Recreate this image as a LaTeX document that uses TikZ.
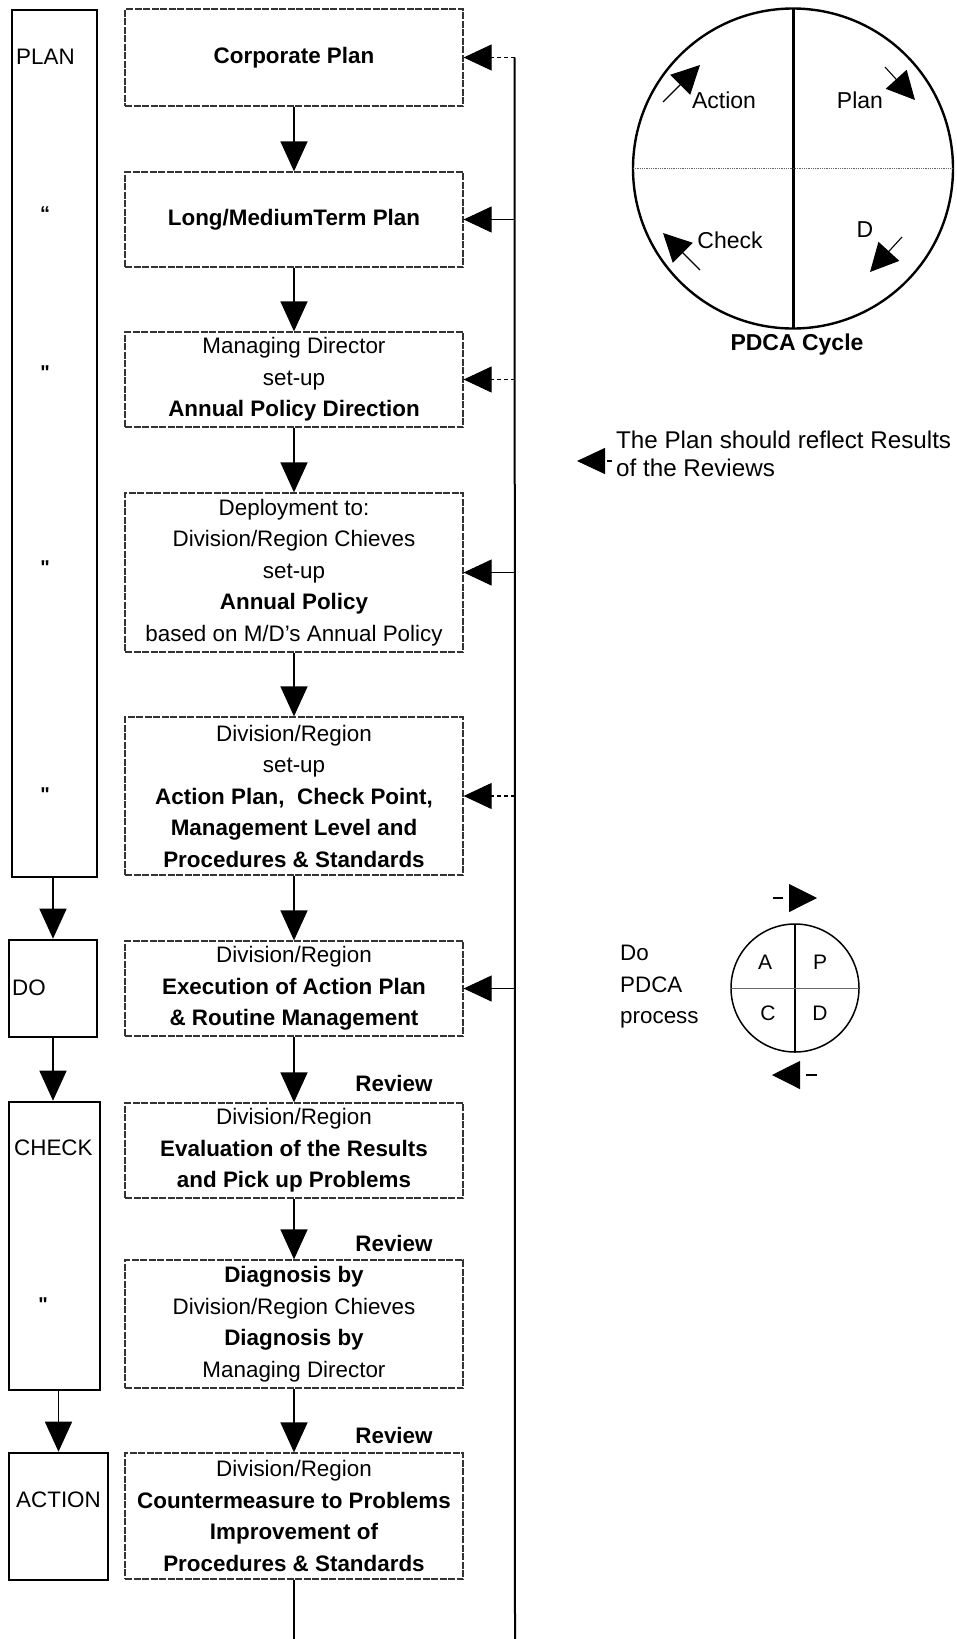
\documentclass[tikz,border=0pt]{standalone}
\usepackage{fontspec}
\setmainfont{Liberation Sans}
\newfontfamily\rawsans[Ligatures=ResetAll]{Liberation Sans}
\usetikzlibrary{arrows.meta}

\begin{document}
\begin{tikzpicture}[x=1pt,y=-1pt,
  flowbox/.style={draw=black!80, line width=1.3pt, dash pattern=on 7pt off 1.5pt,
    minimum width=338pt, inner sep=0pt, align=center,
    font=\fontsize{22.4}{31.5}\selectfont},
  phasebox/.style={draw=black, line width=2.6pt, inner sep=0pt},
  plaintxt/.style={inner sep=0pt, font=\fontsize{22.4}{31.5}\selectfont},
  phasetxt/.style={plaintxt, anchor=west},
  dittotxt/.style={inner sep=0pt, font=\rawsans\bfseries\fontsize{20}{24}\selectfont},
  review/.style={inner sep=0pt, font=\bfseries\fontsize{22.4}{27}\selectfont},
  cycletxt/.style={inner sep=0pt, font=\fontsize{23}{27}\selectfont},
  quadtxt/.style={inner sep=0pt, font=\fontsize{21}{25}\selectfont},
  flowarrow/.style={draw=black, line width=1.6pt, -{Triangle[width=27pt,length=30pt]}},
  fbarrow/.style={draw=black, line width=1.1pt, -{Triangle[width=26pt,length=28pt]}},
  fbdash/.style={dash pattern=on 4pt off 3pt},
  cyclearrow/.style={draw=black, line width=1.1pt, -{Triangle[width=28pt,length=28pt]}},
]
\useasboundingbox (0,0) rectangle (957,1639);

% ---------- phase column ----------
\node[phasebox, minimum width=85pt, minimum height=867pt] (plan) at (54.5,443.5) {};
\node[phasebox, minimum width=88pt, minimum height=97pt] (do) at (53,988.5) {};
\node[phasebox, minimum width=91pt, minimum height=288pt] (check) at (54.5,1246) {};
\node[phasebox, minimum width=99pt, minimum height=127pt] (action) at (58.5,1516.5) {};

\node[phasetxt] (plantxt) at (16,57) {PLAN};
\node[phasetxt] (dotxt) at (12,988) {DO};
\node[phasetxt] (checktxt) at (14,1148) {CHECK};
\node[phasetxt] (actiontxt) at (16,1500) {ACTION};

\node[dittotxt] (d1) at (45,214) {“};
\node[dittotxt] (d2) at (45,373) {"};
\node[dittotxt] (d3) at (45,568) {"};
\node[dittotxt] (d4) at (45,795) {"};
\node[dittotxt] (d5) at (43,1305) {"};

\draw[flowarrow] (plan.south -| do.north) -- (do.north);
\draw[flowarrow] (do.south) -- (do.south |- check.north);
\draw[flowarrow] (check.south -| action.north) -- (action.north);

% ---------- main flow ----------
\node[flowbox, minimum height=97pt] (corp) at (294,57.5) {\textbf{Corporate Plan}};
\node[flowbox, minimum height=95pt] (longm) at (294,219.5) {\textbf{Long/MediumTerm Plan}};
\node[flowbox, minimum height=95pt] (md) at (294,379.5)
  {Managing Director\\set-up\\\textbf{Annual Policy Direction}};
\node[flowbox, minimum height=159pt] (deploy) at (294,572.5)
  {Deployment to:\\Division/Region Chieves\\set-up\\\textbf{Annual Policy}\\based on M/D's Annual Policy};
\node[flowbox, minimum height=158pt] (divset) at (294,796)
  {Division/Region\\set-up\\\textbf{Action Plan,\ \ Check Point,}\\\textbf{Management Level and}\\\textbf{Procedures \& Standards}};
\node[flowbox, minimum height=95pt] (exec) at (294,988.5)
  {Division/Region\\\textbf{Execution of Action Plan}\\\textbf{\& Routine Management}};
\node[flowbox, minimum height=95pt] (eval) at (294,1150.5)
  {Division/Region\\\textbf{Evaluation of the Results}\\\textbf{and Pick up Problems}};
\node[flowbox, minimum height=128pt] (diag) at (294,1324)
  {\textbf{Diagnosis by}\\Division/Region Chieves\\\textbf{Diagnosis by}\\Managing Director};
\node[flowbox, minimum height=126pt] (counter) at (294,1516)
  {Division/Region\\\textbf{Countermeasure to Problems}\\\textbf{Improvement of}\\\textbf{Procedures \& Standards}};

\draw[flowarrow] (corp) -- (longm);
\draw[flowarrow] (longm) -- (md);
\draw[flowarrow] (md) -- (deploy);
\draw[flowarrow] (deploy) -- (divset);
\draw[flowarrow] (divset) -- (exec);
\draw[flowarrow] (exec) -- (eval);
\draw[flowarrow] (eval) -- (diag);
\draw[flowarrow] (diag) -- (counter);

\node[review] (rv1) at (394,1083) {Review};
\node[review] (rv2) at (394,1243) {Review};
\node[review] (rv3) at (394,1435) {Review};

% return line from the bottom back into the plan
\coordinate (ctail) at (294,1639);
\draw[line width=1.6pt] (counter.south) -- (ctail);
\path (corp.east) ++(51,0) coordinate (fbtop);
\coordinate (fbbot) at (515,1639);
\draw[line width=2pt] (fbtop) -- (fbbot);

\draw[fbarrow, fbdash] (fbtop) -- (corp.east);
\draw[fbarrow] (fbtop |- longm.east) -- (longm.east);
\draw[fbarrow, fbdash] (fbtop |- md.east) -- (md.east);
\draw[fbarrow] (fbtop |- deploy.east) -- (deploy.east);
\draw[fbarrow, fbdash] (fbtop |- divset.east) -- (divset.east);
\draw[fbarrow] (fbtop |- exec.east) -- (exec.east);

% ---------- PDCA cycle ----------
\coordinate (pc) at (793,168.5);
\draw[line width=2.4pt] (pc) circle[radius=160pt];
\draw[line width=3pt] (pc) ++(0,-160) -- ++(0,320);
\draw[line width=0.8pt, black!60, densely dotted] (pc) ++(-160,0) -- ++(320,0);

\node[cycletxt] (lact) at (724,100) {Action};
\node[cycletxt] (lplan) at (860,100) {Plan};
\node[cycletxt] (lcheck) at (730,240) {Check};
\node[cycletxt] (ld) at (865,230) {D};
\node[cycletxt, font=\bfseries\fontsize{23}{27}\selectfont] (lcycle) at (797,345) {PDCA Cycle};

\coordinate (a1s) at (663,102); \coordinate (a1e) at (700,65);
\coordinate (a2s) at (885,67);  \coordinate (a2e) at (915,100);
\coordinate (a3s) at (902,237); \coordinate (a3e) at (870,272);
\coordinate (a4s) at (700,270); \coordinate (a4e) at (663,233);
\draw[cyclearrow] (a1s) -- (a1e);
\draw[cyclearrow] (a2s) -- (a2e);
\draw[cyclearrow] (a3s) -- (a3e);
\draw[cyclearrow] (a4s) -- (a4e);

% ---------- legend ----------
\coordinate (ntail) at (612,461); \coordinate (ntip) at (577,461);
\draw[fbarrow, dash pattern=on 5pt off 6pt] (ntail) -- (ntip);
\node[inner sep=0pt, anchor=west, align=left, font=\fontsize{24.2}{28}\selectfont] (note) at (616,454)
  {The Plan should reflect Results\\of the Reviews};

% ---------- Do PDCA process ----------
\node[plaintxt, anchor=west, align=left] (doproc) at (620,987) {Do\\PDCA\\process};
\coordinate (sc) at (795,988);
\draw[line width=1.5pt] (sc) circle[radius=64pt];
\draw[line width=2.6pt] (sc) ++(0,-64) -- ++(0,128);
\draw[line width=0.8pt, black!60] (sc) ++(-64,0) -- ++(128,0);
\node[quadtxt] (qa) at (765,962) {A};
\node[quadtxt] (qp) at (820,962) {P};
\node[quadtxt] (qc) at (768,1013) {C};
\node[quadtxt] (qd) at (820,1013) {D};

\coordinate (s1s) at (773,898); \coordinate (s1e) at (817,898);
\coordinate (s2s) at (817,1075); \coordinate (s2e) at (772,1075);
\draw[cyclearrow, dash pattern=on 10pt off 20pt] (s1s) -- (s1e);
\draw[cyclearrow, dash pattern=on 11pt off 20pt] (s2s) -- (s2e);
\end{tikzpicture}
\end{document}
